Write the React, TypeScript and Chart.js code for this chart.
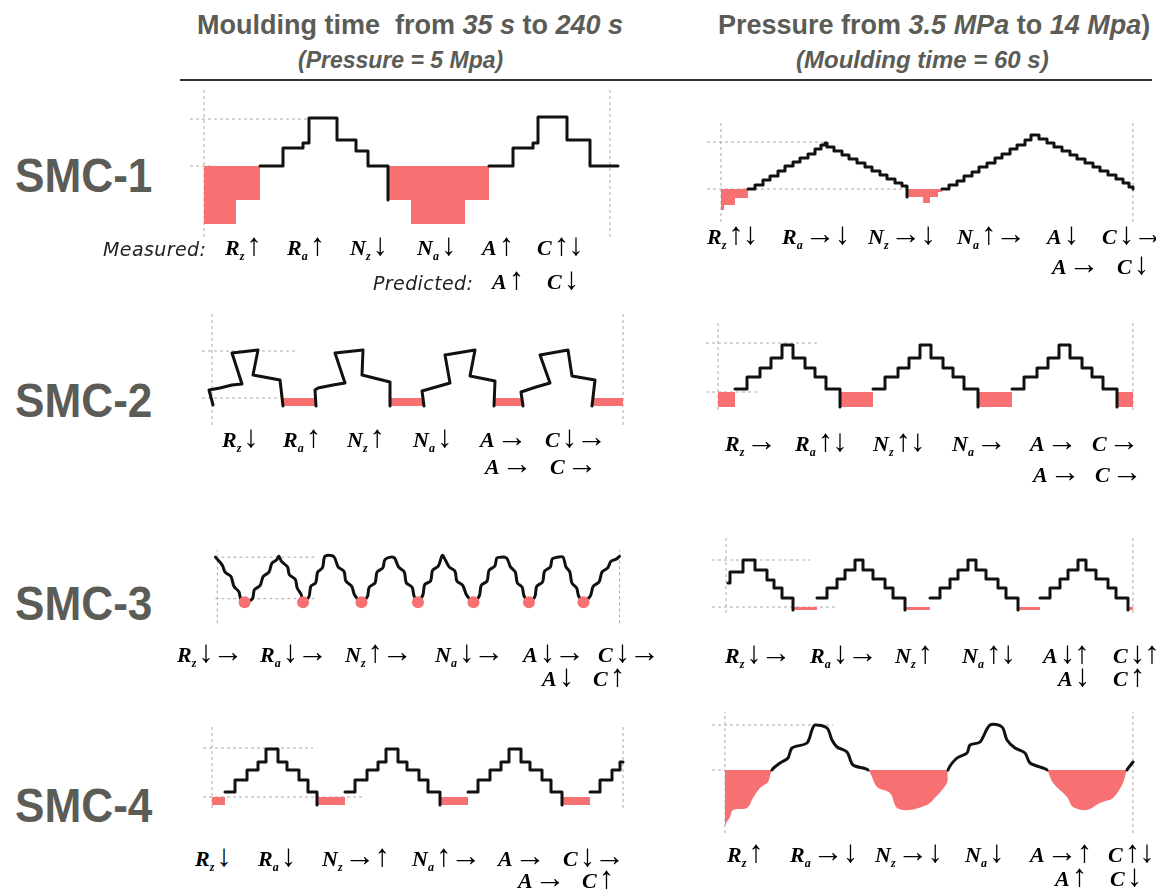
import React, { useEffect, useRef } from "react";
import { Chart, registerables } from "chart.js";
Chart.register(...registerables);

const PINK = "rgb(247,112,114)";
const GRID = "rgb(170,170,170)";
const HEAD = "rgb(92,92,86)";

// ---- profile data (x: position along sampling length from left reference, y: height vs. mean line) ----
// SMC-1, moulding time
const smc1TimeX = [0, 32, 56, 79, 99, 105, 133, 152, 164, 184, 207, 261, 285, 309, 329, 334, 363, 386, 414];
const smc1TimeY = [-58, -34, 0, 18, 23, 48, 26, 15, 0, -34, -58, -34, 0, 18, 23, 49, 26, 0, 0];
// SMC-1, pressure
const smc1PresX = [0, 3, 14, 27, 34, 42, 49, 57, 64, 72, 79, 87, 94, 100, 104, 106, 113, 121, 128, 136, 144, 151, 159, 166, 174, 181, 186, 202, 209, 217, 221, 228, 236, 243, 251, 258, 266, 274, 281, 289, 296, 304, 310, 318, 326, 333, 341, 349, 356, 364, 372, 379, 387, 395, 402, 408, 412];
const smc1PresY = [-21, -16, -9, 0, 4, 9, 13, 18, 23, 27, 31, 35, 40, 44, 46, 42, 38, 34, 30, 26, 22, 18, 14, 10, 6, 3, -8, -14, -8, -3, 0, 4, 8, 13, 17, 22, 26, 31, 35, 40, 44, 49, 54, 50, 46, 42, 38, 34, 30, 26, 22, 18, 14, 10, 6, 2, 0];
// SMC-2, moulding time
const smc2TimeX = [1, -3, 8, 20, 30, 20, 46, 41, 68, 71, 104, 103, 106, 121, 133, 123, 151, 150, 178, 178, 212, 210, 224, 238, 233, 263, 258, 283, 282, 311, 309, 324, 338, 328, 356, 360, 383, 380, 411];
const smc2TimeY = [-7, 8, 10, 13, 14, 45, 48, 23, 18, -8, -8, 8, 10, 13, 15, 45, 48, 23, 16, -8, -8, 7, 11, 15, 43, 48, 22, 17, -8, -8, 6, 11, 15, 43, 48, 22, 18, -8, -8];
// SMC-2, pressure
const smc2PresX = [0, 17, 29, 42, 53, 64, 75, 87, 97, 108, 122, 155, 167, 180, 191, 202, 213, 225, 235, 246, 260, 294, 306, 319, 330, 341, 352, 364, 374, 385, 399, 415];
const smc2PresY = [-15, 3, 15, 24, 34, 47, 34, 24, 15, 3, -15, 3, 15, 24, 34, 47, 34, 24, 15, 3, -15, 3, 15, 24, 34, 47, 34, 24, 15, 3, -15, -15];
// SMC-3, moulding time
const smc3TimeX = [-2, 5, 8, 14, 17, 22, 24, 28, 36, 38, 44, 47, 53, 56, 61, 63, 66, 72, 74, 80, 82, 86, 88, 94, 96, 101, 103, 108, 110, 114, 120, 124, 130, 132, 138, 141, 148, 154, 156, 162, 164, 170, 172, 178, 182, 186, 192, 194, 200, 202, 206, 211, 213, 219, 221, 227, 231, 234, 238, 244, 246, 252, 256, 263, 269, 271, 277, 279, 285, 287, 291, 297, 301, 306, 308, 313, 315, 320, 326, 328, 334, 336, 342, 344, 350, 355, 358, 362, 364, 369, 371, 376, 383, 386, 392, 395, 401, 404, 410, 413];
const smc3TimeY = [47, 38, 30, 25, 14, 8, 0, -3, 0, 10, 15, 25, 30, 40, 44, 48, 42, 36, 27, 22, 12, 5, -3, 2, 14, 18, 30, 35, 47, 49, 47, 36, 31, 20, 14, 4, -3, 2, 13, 18, 30, 35, 44, 47, 46, 36, 30, 18, 13, 3, -3, 4, 16, 20, 32, 37, 49, 44, 36, 31, 20, 15, 4, -3, 3, 15, 20, 32, 37, 46, 47, 46, 36, 30, 18, 13, 3, -3, 2, 14, 19, 31, 36, 45, 47, 47, 36, 30, 18, 12, 3, -3, 3, 14, 19, 30, 35, 42, 45, 48];
const smc3ValleyX = [28, 88, 148, 206, 263, 320, 376];
const smc3ValleyY = [-4, -4, -4, -4, -4, -4, -4];
// SMC-3, pressure
const smc3PresX = [2, 4, 17, 29, 41, 48, 56, 67, 91, 101, 111, 119, 129, 137, 147, 159, 167, 179, 204, 214, 224, 232, 242, 250, 260, 272, 280, 292, 314, 324, 334, 342, 352, 360, 370, 382, 390, 402, 407];
const smc3PresY = [24, 35, 47, 37, 27, 19, 9, -3, 9, 19, 28, 37, 47, 37, 28, 19, 9, -3, 9, 19, 28, 37, 47, 37, 28, 19, 9, -3, 9, 19, 28, 37, 47, 37, 28, 19, 9, -3, -3];
// SMC-4, moulding time
const smc4TimeX = [0, 13, 23, 35, 46, 54, 66, 75, 87, 96, 105, 133, 143, 155, 166, 174, 186, 195, 207, 216, 228, 256, 266, 278, 289, 297, 309, 318, 330, 339, 350, 378, 388, 400, 408, 411];
const smc4TimeY = [-8, 5, 17, 27, 35, 48, 35, 27, 17, 5, -8, 5, 17, 27, 35, 48, 35, 27, 17, 5, -8, 5, 17, 27, 35, 48, 35, 27, 17, 5, -8, 5, 17, 27, 35, 35];
// SMC-4, pressure
const smc4PresX = [0, 5, 8, 22, 28, 35, 43, 47, 55, 63, 67, 82, 87, 90, 102, 107, 112, 122, 128, 143, 152, 165, 172, 185, 202, 208, 222, 223, 232, 242, 245, 255, 265, 277, 282, 290, 300, 305, 318, 322, 328, 342, 348, 362, 375, 388, 398, 402, 408];
const smc4PresY = [-55, -47, -40, -38, -28, -18, -12, 0, 7, 12, 22, 27, 40, 45, 42, 30, 23, 18, 5, 0, -17, -23, -38, -40, -35, -30, -13, 0, 12, 17, 25, 28, 45, 43, 30, 22, 17, 7, 2, 0, -13, -27, -37, -40, -33, -28, -13, 0, 8];

// ---- parameter trend labels: [symbol, subscript, trend] ----
const smc1TimeMeasured = [["R", "z", "↑"], ["R", "a", "↑"], ["N", "z", "↓"], ["N", "a", "↓"], ["A", "", "↑"], ["C", "", "↑↓"]];
const smc1TimePredicted = [["A", "", "↑"], ["C", "", "↓"]];
const smc1PresMeasured = [["R", "z", "↑↓"], ["R", "a", "→↓"], ["N", "z", "→↓"], ["N", "a", "↑→"], ["A", "", "↓"], ["C", "", "↓→"]];
const smc1PresPredicted = [["A", "", "→"], ["C", "", "↓"]];
const smc2TimeMeasured = [["R", "z", "↓"], ["R", "a", "↑"], ["N", "z", "↑"], ["N", "a", "↓"], ["A", "", "→"], ["C", "", "↓→"]];
const smc2TimePredicted = [["A", "", "→"], ["C", "", "→"]];
const smc2PresMeasured = [["R", "z", "→"], ["R", "a", "↑↓"], ["N", "z", "↑↓"], ["N", "a", "→"], ["A", "", "→"], ["C", "", "→"]];
const smc2PresPredicted = [["A", "", "→"], ["C", "", "→"]];
const smc3TimeMeasured = [["R", "z", "↓→"], ["R", "a", "↓→"], ["N", "z", "↑→"], ["N", "a", "↓→"], ["A", "", "↓→"], ["C", "", "↓→"]];
const smc3TimePredicted = [["A", "", "↓"], ["C", "", "↑"]];
const smc3PresMeasured = [["R", "z", "↓→"], ["R", "a", "↓→"], ["N", "z", "↑"], ["N", "a", "↑↓"], ["A", "", "↓↑"], ["C", "", "↓↑"]];
const smc3PresPredicted = [["A", "", "↓"], ["C", "", "↑"]];
const smc4TimeMeasured = [["R", "z", "↓"], ["R", "a", "↓"], ["N", "z", "→↑"], ["N", "a", "↑→"], ["A", "", "→"], ["C", "", "↓→"]];
const smc4TimePredicted = [["A", "", "→"], ["C", "", "↑"]];
const smc4PresMeasured = [["R", "z", "↑"], ["R", "a", "→↓"], ["N", "z", "→↓"], ["N", "a", "↓"], ["A", "", "→↑"], ["C", "", "↑↓"]];
const smc4PresPredicted = [["A", "", "↑"], ["C", "", "↓"]];

const materials = ["SMC-1", "SMC-2", "SMC-3", "SMC-4"];

type PanelCfg = {
  ox: number; oy: number; w: number; peak: number; vTop: number; vBot: number;
  hStart: number; hTopEnd: number; hBaseEnd: number;
  xs: number[]; ys: number[]; kind: "step" | "line" | "curve"; fillBelow: boolean;
  dotsX?: number[]; dotsY?: number[];
};

const panels: PanelCfg[] = [
  { ox: 204, oy: 166, w: 406, peak: 47, vTop: 76, vBot: -71, hStart: -14, hTopEnd: 106, hBaseEnd: 11, xs: smc1TimeX, ys: smc1TimeY, kind: "step", fillBelow: true },
  { ox: 721, oy: 189, w: 412, peak: 47, vTop: 69, vBot: -33, hStart: -14, hTopEnd: 102, hBaseEnd: 187, xs: smc1PresX, ys: smc1PresY, kind: "step", fillBelow: true },
  { ox: 212, oy: 398, w: 411, peak: 47, vTop: 86, vBot: -27, hStart: -10, hTopEnd: 85, hBaseEnd: 68, xs: smc2TimeX, ys: smc2TimeY, kind: "line", fillBelow: true },
  { ox: 718, oy: 392, w: 415, peak: 49, vTop: 70, vBot: -18, hStart: -12, hTopEnd: 102, hBaseEnd: 39, xs: smc2PresX, ys: smc2PresY, kind: "step", fillBelow: true },
  { ox: 212, oy: 600, w: 413, peak: 47, vTop: 55, vBot: -28, hStart: -2, hTopEnd: 101, hBaseEnd: 101, xs: smc3TimeX, ys: smc3TimeY, kind: "curve", fillBelow: false, dotsX: smc3ValleyX, dotsY: smc3ValleyY },
  { ox: 726, oy: 607, w: 407, peak: 47, vTop: 69, vBot: -6, hStart: -14, hTopEnd: 84, hBaseEnd: 111, xs: smc3PresX, ys: smc3PresY, kind: "step", fillBelow: true },
  { ox: 212, oy: 797, w: 411, peak: 49, vTop: 72, vBot: -11, hStart: -9, hTopEnd: 101, hBaseEnd: 151, xs: smc4TimeX, ys: smc4TimeY, kind: "step", fillBelow: true },
  { ox: 725, oy: 770, w: 408, peak: 45, vTop: 58, vBot: -63, hStart: -13, hTopEnd: 108, hBaseEnd: 0, xs: smc4PresX, ys: smc4PresY, kind: "curve", fillBelow: true },
];

type LabelRow = { items: string[][]; xs: number[]; base: number; prefix?: string; prefixX?: number };
const labelRows: LabelRow[] = [
  { items: smc1TimeMeasured, xs: [225, 287, 350, 417, 482, 537], base: 256, prefix: "Measured:", prefixX: 103 },
  { items: smc1TimePredicted, xs: [492, 547], base: 290, prefix: "Predicted:", prefixX: 373 },
  { items: smc1PresMeasured, xs: [707, 782, 868, 957, 1047, 1102], base: 245 },
  { items: smc1PresPredicted, xs: [1052, 1117], base: 275 },
  { items: smc2TimeMeasured, xs: [222, 283, 347, 413, 480, 545], base: 448 },
  { items: smc2TimePredicted, xs: [485, 550], base: 475 },
  { items: smc2PresMeasured, xs: [725, 795, 873, 952, 1030, 1092], base: 452 },
  { items: smc2PresPredicted, xs: [1033, 1095], base: 483 },
  { items: smc3TimeMeasured, xs: [177, 260, 345, 435, 523, 598], base: 663 },
  { items: smc3TimePredicted, xs: [542, 593], base: 687 },
  { items: smc3PresMeasured, xs: [725, 810, 895, 962, 1043, 1113], base: 664 },
  { items: smc3PresPredicted, xs: [1058, 1113], base: 687 },
  { items: smc4TimeMeasured, xs: [195, 258, 322, 412, 498, 563], base: 867 },
  { items: smc4TimePredicted, xs: [518, 582], base: 889 },
  { items: smc4PresMeasured, xs: [727, 790, 875, 965, 1030, 1108], base: 863 },
  { items: smc4PresPredicted, xs: [1055, 1110], base: 887 },
];
const materialBaselines = [193, 418, 621, 823];

function Profile({ cfg }: { cfg: PanelCfg }) {
  const ref = useRef<HTMLCanvasElement>(null);
  const xMin = -25, xMax = cfg.w + 20, yMin = cfg.vBot - 12, yMax = cfg.vTop + 8;
  const cw = xMax - xMin, ch = yMax - yMin;
  useEffect(() => {
    const c = cfg;
    const pts = c.xs.map((x, i) => ({ x, y: c.ys[i] }));
    const hide = (i0: number, i1: number) =>
      !c.fillBelow
        ? false
        : c.kind === "step"
        ? c.ys[i0] < 0
        : c.ys[i0] <= 0 && c.ys[i1] <= 0 && (c.ys[i0] < 0 || c.ys[i1] < 0);
    const grid = (data: { x: number; y: number }[]) => ({
      data, borderColor: GRID, borderWidth: 1, borderDash: [3, 3], pointRadius: 0, fill: false, order: 5, tension: 0,
    });
    const datasets: any[] = [
      {
        data: pts,
        borderColor: "#111",
        borderWidth: 3,
        pointRadius: 0,
        stepped: c.kind === "step",
        tension: c.kind === "curve" ? 0.3 : 0,
        borderJoinStyle: "round",
        borderCapStyle: "round",
        fill: c.fillBelow ? { target: { value: 0 }, above: "rgba(0,0,0,0)", below: PINK } : false,
        segment: {
          borderColor: (ctx: any) => (hide(ctx.p0DataIndex, ctx.p1DataIndex) ? "rgba(0,0,0,0)" : undefined),
        },
        order: 1,
      },
      grid([{ x: 0, y: c.vBot }, { x: 0, y: c.vTop }]),
      grid([{ x: c.w, y: c.vBot }, { x: c.w, y: c.vTop }]),
      grid([{ x: c.hStart, y: c.peak }, { x: c.hTopEnd, y: c.peak }]),
      grid([{ x: c.hStart, y: 0 }, { x: c.hBaseEnd, y: 0 }]),
    ];
    if (c.dotsX && c.dotsY) {
      datasets.push({
        data: c.dotsX.map((x, i) => ({ x, y: c.dotsY![i] })),
        showLine: false, pointRadius: 6, pointBackgroundColor: PINK, pointBorderWidth: 0,
        pointBorderColor: PINK, fill: false, order: 0,
      });
    }
    const chart = new Chart(ref.current!, {
      type: "line",
      data: { datasets },
      options: {
        animation: false,
        responsive: false,
        maintainAspectRatio: false,
        events: [],
        layout: { padding: 0 },
        plugins: { legend: { display: false }, tooltip: { enabled: false } },
        scales: {
          x: { type: "linear", min: xMin, max: xMax, display: false },
          y: { type: "linear", min: yMin, max: yMax, display: false },
        },
      } as any,
    });
    return () => chart.destroy();
  }, []);
  return (
    <canvas
      ref={ref}
      width={cw}
      height={ch}
      style={{ position: "absolute", left: cfg.ox + xMin, top: cfg.oy - yMax, width: cw, height: ch }}
    />
  );
}

const Txt = ({ x, base, size, children, style }: any) => (
  <div
    style={{
      position: "absolute", left: x, top: base - size * 0.845, fontSize: size, lineHeight: `${size}px`,
      whiteSpace: "nowrap", ...style,
    }}
  >
    {children}
  </div>
);

const SERIF = '"Liberation Serif", "DejaVu Serif", serif';
const SANS = '"Liberation Sans", Arial, sans-serif';

function Item({ x, base, item }: { x: number; base: number; item: string[] }) {
  const [sym, sub, arrows] = item;
  return (
    <Txt x={x} base={base} size={22} style={{ fontFamily: SERIF, color: "#000" }}>
      <span style={{ fontWeight: "bold", fontStyle: "italic" }}>{sym}</span>
      {sub ? (
        <span style={{ fontWeight: "bold", fontStyle: "italic", fontSize: 12, position: "relative", top: 5, lineHeight: 0 }}>{sub}</span>
      ) : null}
      <span style={{ marginLeft: 2, fontSize: 31, lineHeight: 0, color: "#000", letterSpacing: -1 }}>{arrows}</span>
    </Txt>
  );
}

export default function App() {
  return (
    <div style={{ position: "absolute", left: 0, top: 0, width: 1156, height: 890, background: "#fff", overflow: "hidden" }}>
      <Txt x={197} base={35} size={27} style={{ fontFamily: SANS, fontWeight: "bold", color: HEAD }}>
        Moulding time&nbsp; from <i>35 s</i> to <i>240 s</i>
      </Txt>
      <Txt x={298} base={68} size={23} style={{ fontFamily: SANS, fontWeight: "bold", fontStyle: "italic", color: HEAD }}>
        (Pressure = 5 Mpa)
      </Txt>
      <Txt x={718} base={35} size={27} style={{ fontFamily: SANS, fontWeight: "bold", color: HEAD }}>
        Pressure from <i>3.5 MPa</i> to <i>14 Mpa</i>)
      </Txt>
      <Txt x={796} base={68} size={24} style={{ fontFamily: SANS, fontWeight: "bold", fontStyle: "italic", color: HEAD }}>
        (Moulding time = 60 s)
      </Txt>
      <div style={{ position: "absolute", left: 180, top: 79, width: 972, height: 2, background: "#333" }} />

      {materials.map((m, i) => (
        <Txt key={m} x={15} base={materialBaselines[i]} size={48}
          style={{ fontFamily: SANS, fontWeight: "bold", color: HEAD, transform: "scaleX(0.92)", transformOrigin: "left" }}>
          {m}
        </Txt>
      ))}

      {panels.map((p, i) => (
        <Profile key={i} cfg={p} />
      ))}

      {labelRows.map((row, r) => (
        <React.Fragment key={r}>
          {row.prefix ? (
            <Txt x={row.prefixX} base={row.base} size={19}
              style={{ fontFamily: '"DejaVu Sans", sans-serif', fontStyle: "italic", color: "#222", letterSpacing: 0.4 }}>
              {row.prefix}
            </Txt>
          ) : null}
          {row.items.map((it, k) => (
            <Item key={k} x={row.xs[k]} base={row.base} item={it} />
          ))}
        </React.Fragment>
      ))}
    </div>
  );
}
